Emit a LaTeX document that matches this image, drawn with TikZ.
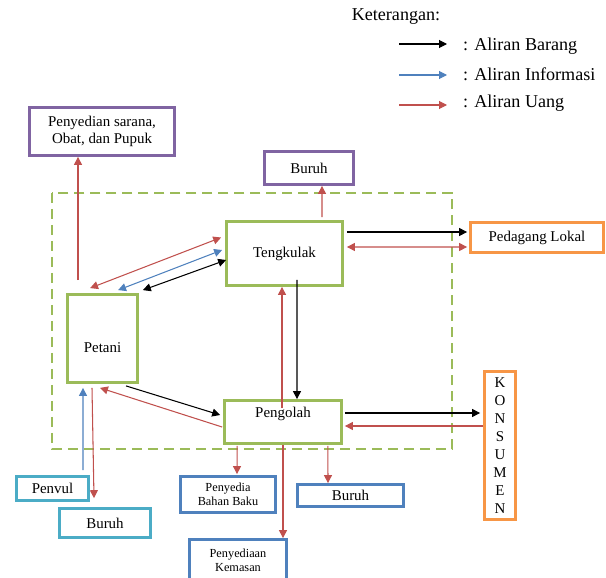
\documentclass[tikz,border=0pt]{standalone}
\usepackage{fontspec}
\setmainfont{Liberation Serif}
\usetikzlibrary{arrows.meta}

\definecolor{hijau}{HTML}{9BBB59}
\definecolor{ungu}{HTML}{8064A2}
\definecolor{oranye}{HTML}{F79646}
\definecolor{tosca}{HTML}{4BACC6}
\definecolor{biru}{HTML}{4F81BD}
\definecolor{merah}{HTML}{C0504D}

\begin{document}
\begin{tikzpicture}[x=0.02cm,y=-0.02cm,
  >={Triangle[length=4.5pt,width=4.5pt]},
  teks/.style={font=\fontsize{8.5}{9.6}\selectfont},
  kecil/.style={font=\fontsize{7}{8.2}\selectfont},
  kotak/.style={draw,fill=white,line width=1.6pt,inner sep=0pt,align=center,teks},
  barang/.style={black,line width=0.6pt},
  info/.style={biru,line width=0.6pt},
  uang/.style={merah,line width=0.6pt},
  legenda/.style={font=\fontsize{10.3}{12}\selectfont}]
\useasboundingbox (0,0) rectangle (606,578);
\clip (0,0) rectangle (606,578);

% keterangan
\node[legenda] (ket) at (396,17) {Keterangan:};
\node[legenda,anchor=west] (lbarang) at (457,46) {: Aliran Barang};
\node[legenda,anchor=west] (linfo) at (457,74) {: Aliran Informasi};
\node[legenda,anchor=west] (luang) at (457,103) {: Aliran Uang};
\coordinate (b1) at (399,44); \coordinate (b2) at (447,44);
\coordinate (i1) at (399,75); \coordinate (i2) at (447,75);
\coordinate (u1) at (399,105); \coordinate (u2) at (447,105);
\draw[barang,->] (b1) -- (b2);
\draw[info,->] (i1) -- (i2);
\draw[uang,->] (u1) -- (u2);

% batas
\draw[hijau,line width=1.1pt,dash pattern=on 0.2cm off 0.12cm] (52,193) rectangle (452,449);

% kotak
\node[kotak,draw=ungu,minimum width=2.90cm,minimum height=0.96cm] (sarana) at (102,131.5) {Penyedian sarana,\\Obat, dan Pupuk};
\node[kotak,draw=ungu,minimum width=1.78cm,minimum height=0.66cm] (buruhA) at (309,168) {Buruh};
\node[kotak,draw=hijau,minimum width=2.32cm,minimum height=1.28cm] (tengkulak) at (284.5,253.5) {Tengkulak};
\node[kotak,draw=oranye,minimum width=2.66cm,minimum height=0.60cm] (pedagang) at (537,237.5) {Pedagang Lokal};
\node[kotak,draw=hijau,minimum width=1.40cm,minimum height=1.76cm,
  label={[teks,yshift=-0.19cm]center:Petani}] (petani) at (102.5,338.5) {};
\node[kotak,draw=hijau,minimum width=2.34cm,minimum height=0.86cm,
  label={[teks,anchor=north,yshift=-0.04cm]north:Pengolah}] (pengolah) at (283,422) {};
\node[kotak,draw=oranye,minimum width=0.62cm,minimum height=2.96cm,font=\fontsize{8.5}{10.2}\selectfont] (konsumen) at (500,445.5) {K\\O\\N\\S\\U\\M\\E\\N};
\node[kotak,draw=tosca,minimum width=1.44cm,minimum height=0.48cm] (penvul) at (52.5,488.5) {Penvul};
\node[kotak,draw=tosca,minimum width=1.82cm,minimum height=0.58cm] (buruhB) at (105,523) {Buruh};
\node[kotak,draw=biru,kecil,minimum width=1.90cm,minimum height=0.72cm] (bahanbaku) at (228,494.5) {Penyedia\\Bahan Baku};
\node[kotak,draw=biru,minimum width=2.12cm,minimum height=0.44cm] (buruhC) at (350.5,495.5) {Buruh};
\node[kotak,draw=biru,kecil,minimum width=1.94cm,minimum height=0.82cm] (kemasan) at (238,560) {Penyediaan\\Kemasan};

% aliran
\draw[uang,->] ([shift={(-24.5,-13)}]petani.north) -- ([shift={(-24,0)}]sarana.south);
\draw[uang,<->] ([shift={(24,-5)}]petani.north west) -- ([shift={(-4,-16)}]tengkulak.west);
\draw[info,<->] ([shift={(52,-3)}]petani.north west) -- ([shift={(-3,-3.5)}]tengkulak.west);
\draw[barang,<->] ([shift={(4,-3)}]petani.north east) -- ([shift={(1,6.5)}]tengkulak.west);
\draw[uang,->] ([shift={(37.5,-3)}]tengkulak.north) -- ([shift={(13,0)}]buruhA.south);
\draw[barang,->] ([shift={(3,-21.5)}]tengkulak.east) -- ([shift={(-2,-5.5)}]pedagang.west);
\draw[uang,<->] ([shift={(3,-6.5)}]tengkulak.east) -- ([shift={(-2,9.5)}]pedagang.west);
\draw[barang,->] ([shift={(12.5,-7)}]tengkulak.south) -- ([shift={(14,0)}]pengolah.north);
\draw[uang,->] ([shift={(-1,9)}]pengolah.north) -- ([shift={(-2.5,0)}]tengkulak.south);
\draw[barang,->] ([shift={(23.5,2)}]petani.south) -- ([shift={(-3,-7)}]pengolah.west);
\draw[uang,->] ([shift={(-1,5)}]pengolah.west) -- ([shift={(-2.5,4)}]petani.south);
\draw[info,->] ([shift={(30.5,-5)}]penvul.north) -- ([shift={(-19.5,4)}]petani.south);
\draw[uang,->] ([shift={(-10.5,4)}]petani.south) -- ([shift={(-11,-9)}]buruhB.north);
\draw[barang,->] ([shift={(2,-9)}]pengolah.east) -- ([shift={(-3,-32.5)}]konsumen.west);
\draw[uang,->] ([shift={(0,-19.5)}]konsumen.west) -- ([shift={(2,4)}]pengolah.east);
\draw[uang,->] ([shift={(14,1)}]pengolah.south west) -- ([shift={(9,-1)}]bahanbaku.north);
\draw[uang,->] ([shift={(-15,1)}]pengolah.south east) -- ([shift={(-22.5,0)}]buruhC.north);
\draw[uang,->] (pengolah.south) -- ([shift={(45,0)}]kemasan.north);

\end{tikzpicture}
\end{document}
